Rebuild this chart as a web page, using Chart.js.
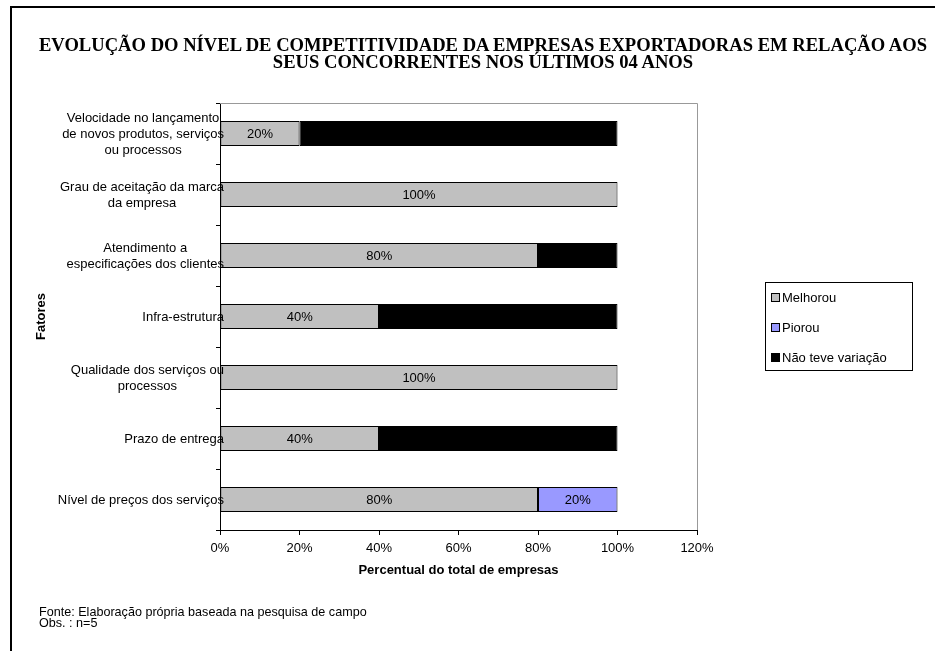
<!DOCTYPE html>
<html>
<head>
<meta charset="utf-8">
<script src="https://cdn.jsdelivr.net/npm/chart.js@4"></script>
<style>
  html, body { margin: 0; padding: 0; background: #fff; overflow: hidden; }
  #wrap { position: relative; width: 935px; height: 651px; }
  #frame { position: absolute; left: 10px; top: 6px; right: 0; bottom: 0; border-top: 2px solid #000; border-left: 2px solid #000; }
  #chart { position: absolute; left: 0; top: 0; }
  #title { position: absolute; left: 30px; width: 906px; top: 36px; text-align: center; white-space: nowrap;
           font: bold 18.6px 'Liberation Serif', 'Times New Roman', serif; line-height: 17px; color: #000; }
  #legend { position: absolute; left: 765px; top: 282px; width: 148px; height: 89px; border: 1px solid #000; box-sizing: border-box;
            font: 13px 'Liberation Sans', Arial, sans-serif; color: #000; }
  #legend .item { position: absolute; left: 5px; height: 14px; line-height: 14px; white-space: nowrap; }
  #legend .box { display: inline-block; width: 7px; height: 7px; border: 1px solid #000; margin-right: 2px; vertical-align: 0px; }
  #note { position: absolute; left: 39px; top: 607px; font: 12.6px 'Liberation Sans', Arial, sans-serif; line-height: 11px; color: #000; }
</style>
</head>
<body>
<div id="wrap">
  <div id="frame"></div>
  <canvas id="chart" width="935" height="651"></canvas>
  <div id="title">EVOLUÇÃO DO NÍVEL DE COMPETITIVIDADE DA EMPRESAS EXPORTADORAS EM RELAÇÃO AOS<br>SEUS CONCORRENTES NOS ÚLTIMOS 04 ANOS</div>
  <div id="legend"></div>
  <div id="note">Fonte: Elaboração própria baseada na pesquisa de campo<br>Obs. : n=5</div>
</div>
<script>
// Fatores avaliados (cada rótulo quebrado em linhas)
const fatores = [
  ['Velocidade no lançamento', 'de novos produtos, serviços', 'ou processos'],
  ['Grau de aceitação da marca', 'da empresa'],
  ['Atendimento a', 'especificações dos clientes'],
  ['Infra-estrutura'],
  ['Qualidade dos serviços ou', 'processos'],
  ['Prazo de entrega'],
  ['Nível de preços dos serviços']
];

// Percentual de empresas por resposta
const melhorou = [20, 100, 80, 40, 100, 40, 80];
const piorou = [0, 0, 0, 0, 0, 0, 20];
const semVariacao = [80, 0, 20, 60, 0, 60, 0];

const xTicks = [0, 20, 40, 60, 80, 100, 120];

const FONT = "'Liberation Sans', Arial, sans-serif";

const series = [
  { label: 'Melhorou', data: melhorou, color: '#c0c0c0', showValue: true },
  { label: 'Piorou', data: piorou, color: '#9999ff', showValue: true },
  { label: 'Não teve variação', data: semVariacao, color: '#000000', showValue: false }
];

// moldura cinza no topo e à direita da área do gráfico
const plotFrame = {
  id: 'plotFrame',
  beforeDatasetsDraw(chart) {
    const { ctx, chartArea: a } = chart;
    ctx.save();
    ctx.strokeStyle = '#999999';
    ctx.lineWidth = 1;
    ctx.beginPath();
    ctx.moveTo(Math.round(a.left), Math.round(a.top) + 0.5);
    ctx.lineTo(Math.round(a.right) + 0.5, Math.round(a.top) + 0.5);
    ctx.lineTo(Math.round(a.right) + 0.5, Math.round(a.bottom));
    ctx.stroke();
    ctx.restore();
  }
};

// rótulos do eixo Y: linhas centradas entre si, bloco encostado no eixo
const yLabels = {
  id: 'yLabels',
  afterDraw(chart) {
    const { ctx } = chart;
    const scale = chart.scales.y;
    const lh = 16;
    ctx.save();
    ctx.font = '13px ' + FONT;
    ctx.fillStyle = '#000';
    ctx.textAlign = 'center';
    ctx.textBaseline = 'middle';
    fatores.forEach((lines, i) => {
      const w = Math.max(...lines.map(l => ctx.measureText(l).width));
      const cx = scale.right + 4 - w / 2;
      const cy = scale.getPixelForTick(i) + 1;
      const y0 = cy - (lines.length - 1) * lh / 2;
      lines.forEach((l, k) => ctx.fillText(l, cx, y0 + k * lh));
    });
    ctx.restore();
  }
};

// valores dentro das barras
const barLabels = {
  id: 'barLabels',
  afterDatasetsDraw(chart) {
    const { ctx } = chart;
    ctx.save();
    ctx.font = '13px ' + FONT;
    ctx.fillStyle = '#000';
    ctx.textAlign = 'center';
    ctx.textBaseline = 'middle';
    chart.data.datasets.forEach((ds, i) => {
      if (!series[i].showValue) return;
      chart.getDatasetMeta(i).data.forEach((bar, j) => {
        const v = ds.data[j];
        if (!v) return;
        const p = bar.getCenterPoint();
        ctx.fillText(v + '%', p.x, p.y + 1);
      });
    });
    ctx.restore();
  }
};

const chart = new Chart(document.getElementById('chart'), {
  type: 'bar',
  data: {
    labels: fatores,
    datasets: series.map(s => ({
      label: s.label,
      data: s.data,
      backgroundColor: s.color,
      borderColor: '#000',
      borderWidth: 1,
      borderSkipped: false,
      categoryPercentage: 25 / 61,
      barPercentage: 1
    }))
  },
  options: {
    indexAxis: 'y',
    responsive: false,
    animation: false,
    layout: { padding: { left: 34, right: 238, top: 103, bottom: 73 } },
    plugins: { legend: { display: false }, tooltip: { enabled: false } },
    scales: {
      x: {
        stacked: true,
        min: 0,
        max: 120,
        afterBuildTicks: s => { s.ticks = xTicks.map(v => ({ value: v })); },
        ticks: { callback: v => v + '%', color: '#000', font: { family: FONT, size: 13 }, padding: 6 },
        grid: { drawOnChartArea: false, tickLength: 5, color: '#000' },
        border: { color: '#000', width: 1 },
        title: {
          display: true, text: 'Percentual do total de empresas', color: '#000',
          font: { family: FONT, size: 13, weight: 'bold' }, padding: { top: 0, bottom: 0 }
        },
        afterFit: s => { s.height = 48; }
      },
      y: {
        stacked: true,
        ticks: { callback: () => '' },
        grid: { drawOnChartArea: false, tickLength: 4, color: '#000', offset: true },
        border: { color: '#000', width: 1 },
        title: {
          display: true, text: 'Fatores', color: '#000',
          font: { family: FONT, size: 13, weight: 'bold' }, padding: { top: 0, bottom: 0 }
        },
        afterFit: s => { s.width = 186; }
      }
    }
  },
  plugins: [plotFrame, yLabels, barLabels]
});

// legenda
const legend = document.getElementById('legend');
series.forEach((s, i) => {
  const item = document.createElement('div');
  item.className = 'item';
  item.style.top = (8 + i * 30) + 'px';
  const box = document.createElement('span');
  box.className = 'box';
  box.style.background = s.color;
  item.appendChild(box);
  item.appendChild(document.createTextNode(s.label));
  legend.appendChild(item);
});
</script>
</body>
</html>
